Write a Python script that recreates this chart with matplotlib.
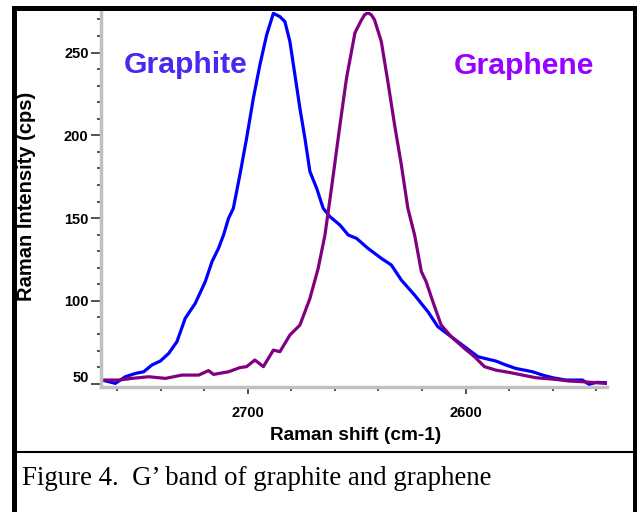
import matplotlib
matplotlib.use('Agg')
import matplotlib.pyplot as plt
from matplotlib.patches import Rectangle
from matplotlib.lines import Line2D
from matplotlib.transforms import ScaledTranslation

# Raman G' band
graphite_shift = [2765.8, 2760.9, 2756.3, 2751.7, 2747.9, 2744.1, 2740.2, 2736.4, 2732.6,
                  2728.8, 2724.2, 2719.6, 2716.5, 2713.5, 2711.2, 2708.9, 2706.7, 2703.7,
                  2700.6, 2697.5, 2694.5, 2691.4, 2688.3, 2685.3, 2683.0, 2680.7, 2678.4,
                  2676.1, 2673.8, 2671.5, 2668.4, 2665.4, 2662.3, 2657.7, 2653.9, 2650.1,
                  2644.9, 2638.7, 2634.1, 2629.5, 2623.4, 2617.3, 2612.7, 2606.6, 2600.5,
                  2594.3, 2591.3, 2586.1, 2581.5, 2576.9, 2573.0, 2569.2, 2564.6, 2560.0,
                  2553.9, 2546.3, 2543.2, 2540.1, 2535.6]
graphite_int = [51.8, 50.2, 54.2, 56.2, 57.2, 61.3, 63.7, 68.3, 75.4,
                89.5, 98.5, 111.6, 123.7, 131.8, 139.8, 149.9, 155.9, 176.0,
                198.2, 222.4, 242.5, 260.6, 273.7, 271.7, 268.7, 256.6, 236.5,
                216.3, 198.2, 178.1, 168.0, 155.9, 150.9, 145.8, 139.8, 137.8,
                131.8, 125.7, 121.7, 112.6, 103.5, 93.5, 84.4, 78.4, 72.4,
                66.3, 65.3, 63.7, 61.3, 59.2, 58.2, 57.2, 55.2, 53.6,
                52.2, 52.2, 49.6, 50.8, 50.6]

graphene_shift = [2765.8, 2759.4, 2753.3, 2745.6, 2737.9, 2730.3, 2722.6, 2718.1, 2715.8,
                  2708.9, 2703.7, 2700.6, 2696.8, 2692.9, 2688.3, 2685.3, 2680.7, 2676.1,
                  2671.5, 2667.7, 2664.6, 2661.6, 2657.7, 2654.7, 2650.8, 2647.9, 2646.4,
                  2644.9, 2643.3, 2641.8, 2638.7, 2635.7, 2632.6, 2629.5, 2626.5, 2623.4,
                  2620.3, 2618.1, 2615.0, 2611.2, 2606.6, 2600.5, 2595.9, 2591.3, 2586.1,
                  2579.9, 2573.8, 2567.7, 2558.5, 2552.4, 2546.3, 2540.1, 2535.6]
graphene_int = [52.2, 52.2, 53.2, 54.2, 53.2, 55.2, 55.2, 57.9, 55.6,
                57.2, 59.7, 60.3, 64.3, 60.3, 70.3, 69.3, 79.4, 85.4,
                101.5, 119.7, 139.8, 168.0, 206.3, 234.5, 262.0, 269.5, 272.8,
                274.0, 272.8, 269.7, 256.6, 232.5, 206.3, 182.2, 155.9, 139.8,
                117.7, 111.6, 99.5, 85.4, 78.4, 71.3, 66.3, 60.3, 58.2,
                56.8, 55.2, 53.6, 52.6, 51.6, 51.2, 50.6, 50.2]

y_ticks = [50, 100, 150, 200, 250]
x_ticks = [2700, 2600]

W, H = 637, 512
fig = plt.figure(figsize=(W / 100, H / 100), dpi=100)


def px(x, y):
    # pixel position (from top-left) -> figure fraction
    return x / W, 1 - y / H


ax = fig.add_axes([101 / W, 1 - 387 / H, (607 - 101) / W, (387 - 12) / H])
ax.plot(graphite_shift, graphite_int, color='#0000ff', lw=2.3, solid_joinstyle='round')
ax.plot(graphene_shift, graphene_int, color='#800080', lw=2.3, solid_joinstyle='round')

ax.set_xlim(2767.5, 2535)
ax.set_ylim(48, 274.5)
ax.set_xticks(x_ticks)
ax.set_xticks(range(2540, 2767, 20), minor=True)
ax.set_yticks(y_ticks)
ax.set_yticks(range(60, 275, 10), minor=True)

lbl_font = dict(family='Liberation Sans', weight='bold')
ax.set_xticklabels([str(v) for v in x_ticks], fontsize=10.5, **lbl_font)
ax.set_yticklabels([str(v) for v in y_ticks], fontsize=10.5, **lbl_font)
ax.tick_params(axis='both', which='major', direction='out', color='#333333', width=1.2)
ax.tick_params(axis='y', which='major', length=7, pad=2)
ax.tick_params(axis='x', which='major', length=5, pad=9)
ax.tick_params(axis='both', which='minor', direction='out', color='#333333', width=1.2, length=3)

# the "50" label sits a bit above its tick in the original
lab50 = ax.get_yticklabels()[0]
lab50.set_transform(lab50.get_transform() + ScaledTranslation(0, 0.07, fig.dpi_scale_trans))

for s in ['top', 'right']:
    ax.spines[s].set_visible(False)
for s in ['left', 'bottom']:
    ax.spines[s].set_color('#c0c0c0')
    ax.spines[s].set_linewidth(2.5)

fig.text(*px(26.7, 196.7), 'Raman Intensity (cps)', rotation=90, ha='center', va='center',
         fontsize=14.5, **lbl_font)
fig.text(*px(355.5, 436), 'Raman shift (cm-1)', ha='center', va='center',
         fontsize=13.7, **lbl_font)

fig.text(*px(124, 73), 'Graphite', ha='left', va='baseline', color='#4a28f0',
         fontsize=21.7, **lbl_font)
fig.text(*px(453.5, 74), 'Graphene', ha='left', va='baseline', color='#9900ff',
         fontsize=21.7, **lbl_font)

# outer frame, separator and caption
fig.patches.append(Rectangle(px(14, 520), (634.5 - 14) / W, (520 - 7.5) / H,
                             transform=fig.transFigure, fill=False, ec='black', lw=3.6))
fig.lines.append(Line2D([14 / W, 634 / W], [1 - 452 / H] * 2, transform=fig.transFigure,
                        color='black', lw=1.5))
fig.text(*px(22, 485), 'Figure 4.  G\u2019 band of graphite and graphene', ha='left',
         va='baseline', fontsize=19.4, family='Liberation Serif')

fig.savefig('out.png', dpi=100)
